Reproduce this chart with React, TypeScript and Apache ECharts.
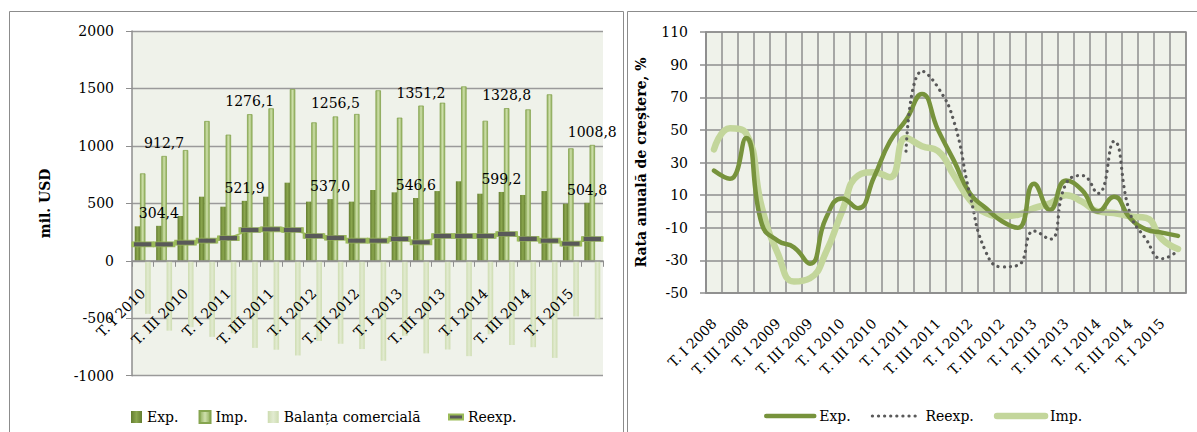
import React, { useEffect, useRef } from "react";
import * as echarts from "echarts";

const FONT = "DejaVu Serif";

// ---- Left chart data (mil. USD) ----
const barCats = [
  "T. I 2010", "T. II 2010", "T. III 2010", "T. IV 2010",
  "T. I 2011", "T. II 2011", "T. III 2011", "T. IV 2011",
  "T. I 2012", "T. II 2012", "T. III 2012", "T. IV 2012",
  "T. I 2013", "T. II 2013", "T. III 2013", "T. IV 2013",
  "T. I 2014", "T. II 2014", "T. III 2014", "T. IV 2014",
  "T. I 2015", "T. II 2015",
];
const expVals = [300, 304.4, 390, 558, 471, 521.9, 558, 680, 515, 537.0, 515, 616, 596, 546.6, 607, 692, 584, 599.2, 573, 607, 497, 504.8];
const impVals = [761, 912.7, 964, 1217, 1098, 1276.1, 1327, 1495, 1205, 1256.5, 1278, 1484, 1246, 1351.2, 1376, 1518, 1219, 1328.8, 1318, 1449, 979, 1008.8];
const balVals = [-462, -608, -578, -662, -630, -758, -774, -824, -698, -722, -768, -870, -652, -806, -772, -830, -640, -733, -752, -845, -484, -504];
const reexpVals = [143, 143, 158, 175, 196, 268, 274, 268, 216, 201, 175, 175, 190, 161, 216, 216, 216, 233, 192, 175, 149, 190];
const labeledIdx = [1, 5, 9, 13, 17, 21];
const leftTicks = { min: -1000, max: 2000, step: 500 };
const leftLegend = ["Exp.", "Imp.", "Balanța comercială"];
const leftLineLegend = ["Reexp."];

// ---- Right chart data (annual growth rate, %) ----
const rateCats = [
  "T. I 2008", "T. II 2008", "T. III 2008", "T. IV 2008",
  "T. I 2009", "T. II 2009", "T. III 2009", "T. IV 2009",
  "T. I 2010", "T. II 2010", "T. III 2010", "T. IV 2010",
  "T. I 2011", "T. II 2011", "T. III 2011", "T. IV 2011",
  "T. I 2012", "T. II 2012", "T. III 2012", "T. IV 2012",
  "T. I 2013", "T. II 2013", "T. III 2013", "T. IV 2013",
  "T. I 2014", "T. II 2014", "T. III 2014", "T. IV 2014",
  "T. I 2015", "T. II 2015",
];
const expRate = [25, 20, 45, -8, -18, -22, -32, -4, 8, 2, 21, 43, 56, 72, 50, 31, 11, 2, -6, -10, 17, 1, 19, 13, 0, 9, -4, -11, -13, -15];
const impRate = [38, 51, 48, 2, -26, -43, -41, -25, 0, 22, 24, 21, 45, 40, 37, 22, 7, -1, -3, -2, 2, 5, 10, 6, 0, -1, -3, -4, -17, -23];
const reexpRate = [null, null, null, null, null, null, null, null, null, null, null, null, 37, 86, 76, 55, 10, -25, -34, -33, -12, -17, 17, 22, 11, 43, -1, -17, -29, -24];
const rightTicks = { min: -50, max: 110, step: 20 };
const rightLegend = ["r_Exp.", "r_Reexp.", "r_Imp."];

const GRID_COL = "#8e8e8e";
const GREEN_DARK = "#77933C";
const GREEN_MID = "#9BBB59";
const GREEN_PALE = "#C3D69B";

// left grid geometry
const L_TOP = 31;
const L_H = 344.7;

function fmt(v: number) {
  return v.toFixed(1).replace(".", ",");
}

export default function App() {
  const ref = useRef<HTMLDivElement | null>(null);

  useEffect(() => {
    if (!ref.current) return;
    const chart = echarts.init(ref.current, undefined, { renderer: "svg" });

    const expGrad = new echarts.graphic.LinearGradient(0, 0, 1, 0, [
      { offset: 0, color: "#647d30" },
      { offset: 0.5, color: "#8aa64e" },
      { offset: 1, color: "#647d30" },
    ]);
    const impGrad = new echarts.graphic.LinearGradient(0, 0, 1, 0, [
      { offset: 0, color: "#8fae5a" },
      { offset: 0.5, color: "#cfe0ac" },
      { offset: 1, color: "#8fae5a" },
    ]);
    const balGrad = new echarts.graphic.LinearGradient(0, 0, 1, 0, [
      { offset: 0, color: "#cddcb0" },
      { offset: 0.5, color: "#e2ebd1" },
      { offset: 1, color: "#cddcb0" },
    ]);

    const labelStyle = {
      show: true,
      position: "top",
      distance: 6,
      fontFamily: FONT,
      fontSize: 14,
      color: "#000",
      formatter: (p: any) => fmt(p.value),
    };
    const withLabels = (arr: number[]) =>
      arr.map((v, i) => (labeledIdx.includes(i) ? { value: v, label: labelStyle } : v));

    const axisText = { fontFamily: FONT, fontSize: 14, color: "#000" };
    const legendText = { fontFamily: FONT, fontSize: 14, color: "#000", fontWeight: "normal" };
    const legendItems = (names: string[]) => names.map((n) => ({ name: n, textStyle: { ...legendText } }));

    // distance from grid bottom to the zero line of the left value axis
    const zeroOffset = -(L_H * (0 - leftTicks.min)) / (leftTicks.max - leftTicks.min);

    const option: any = {
      animation: false,
      backgroundColor: "#ffffff",
      textStyle: { fontFamily: FONT },
      graphic: [
        { type: "rect", shape: { x: 9.5, y: 11.5, width: 614, height: 440 }, style: { fill: "none", stroke: "#8c8c8c", lineWidth: 1 }, silent: true },
        { type: "rect", shape: { x: 627.5, y: 11.5, width: 590, height: 440 }, style: { fill: "none", stroke: "#8c8c8c", lineWidth: 1 }, silent: true },
      ],
      grid: [
        { left: 132, top: L_TOP, width: 471, height: L_H, show: true, backgroundColor: "#eff2ea", borderWidth: 0, containLabel: false, outerBoundsMode: "none" },
        { left: 706, top: 32, width: 480, height: 261, show: true, backgroundColor: "#eff2ea", borderWidth: 1.5, borderColor: GRID_COL, containLabel: false, outerBoundsMode: "none" },
      ],
      legend: [
        {
          left: 126, top: 405, itemWidth: 11, itemHeight: 12, itemGap: 20, icon: "rect",
          textStyle: legendText,
          data: legendItems(leftLegend),
          selectedMode: false,
        },
        {
          left: 443, top: 405, itemWidth: 14, itemHeight: 5, icon: "rect",
          textStyle: legendText,
          data: legendItems(leftLineLegend),
          selectedMode: false,
        },
        {
          left: 759, top: 404, itemWidth: 48, itemHeight: 14, itemGap: 20,
          textStyle: legendText,
          lineStyle: { width: "inherit", type: "inherit" },
          itemStyle: { opacity: 0 },
          data: legendItems(rightLegend),
          formatter: (n: string) => n.replace("r_", ""),
          selectedMode: false,
        },
      ],
      xAxis: [
        {
          type: "category", gridIndex: 0, data: barCats, z: 5,
          position: "bottom", offset: zeroOffset,
          axisLine: { show: true, onZero: false, lineStyle: { color: GRID_COL, width: 1.5 } },
          axisTick: { show: true, interval: 0, length: 6, lineStyle: { color: GRID_COL, width: 1 } },
          axisLabel: { ...axisText, interval: 1, rotate: 45, margin: 30 },
          splitLine: { show: false },
        },
        {
          type: "category", gridIndex: 1, data: rateCats,
          axisLine: { show: true, onZero: false, lineStyle: { color: GRID_COL, width: 1.5 } },
          axisTick: { show: false },
          axisLabel: { ...axisText, interval: 1, rotate: 45, margin: 28 },
          splitLine: { show: true, interval: 0, lineStyle: { color: GRID_COL, width: 1.5 } },
        },
      ],
      yAxis: [
        {
          type: "value", gridIndex: 0, min: leftTicks.min, max: leftTicks.max, interval: leftTicks.step,
          axisLine: { show: true, lineStyle: { color: GRID_COL, width: 1.5 } },
          axisTick: { show: true, length: 6, lineStyle: { color: GRID_COL } },
          axisLabel: { ...axisText, margin: 18, formatter: (v: number) => String(v) },
          splitLine: { show: true, lineStyle: { color: "#9a9a9a", width: 1.3 } },
          name: "mil. USD", nameLocation: "middle", nameGap: 80,
          nameTextStyle: { fontFamily: FONT, fontSize: 14, fontWeight: "bold", color: "#000" },
        },
        {
          type: "value", gridIndex: 1, min: rightTicks.min, max: rightTicks.max, interval: rightTicks.step,
          axisLine: { show: true, lineStyle: { color: GRID_COL, width: 1.5 } },
          axisTick: { show: true, length: 6, lineStyle: { color: GRID_COL, width: 1.5 } },
          axisLabel: { ...axisText, margin: 18, formatter: (v: number) => String(v) },
          splitLine: { show: true, lineStyle: { color: GRID_COL, width: 1.5 } },
          name: "Rata anuală de creștere, %", nameLocation: "middle", nameGap: 58,
          nameTextStyle: { fontFamily: FONT, fontSize: 14, fontWeight: "bold", color: "#000" },
        },
      ],
      series: [
        {
          name: "Exp.", type: "bar", xAxisIndex: 0, yAxisIndex: 0, barWidth: 5.5, barGap: "-5%",
          itemStyle: { color: expGrad },
          data: withLabels(expVals),
        },
        {
          name: "Imp.", type: "bar", xAxisIndex: 0, yAxisIndex: 0, barWidth: 5.5, barGap: "-5%",
          itemStyle: { color: impGrad, borderColor: "#86a550", borderWidth: 0.8 },
          data: withLabels(impVals),
        },
        {
          name: "Balanța comercială", type: "bar", xAxisIndex: 0, yAxisIndex: 0, barWidth: 5.5, barGap: "-5%",
          itemStyle: { color: balGrad },
          data: balVals,
        },
        {
          name: "Reexp.", type: "line", xAxisIndex: 0, yAxisIndex: 0, z: 4,
          symbol: "rect", symbolSize: [20, 5], showSymbol: true,
          itemStyle: { color: "#595959", borderColor: GREEN_MID, borderWidth: 1.3 },
          lineStyle: { color: GREEN_MID, width: 1.5 },
          data: reexpVals,
        },
        {
          name: "zero", type: "line", xAxisIndex: 1, yAxisIndex: 1, data: [], z: 1,
          markLine: {
            silent: true, symbol: "none", label: { show: false },
            lineStyle: { color: GRID_COL, width: 1.5, type: "solid" },
            data: [{ yAxis: 0 }],
          },
        },
        {
          name: "r_Imp.", type: "line", xAxisIndex: 1, yAxisIndex: 1, z: 2,
          smooth: true, symbol: "none", showSymbol: false,
          lineStyle: { color: GREEN_PALE, width: 6.5, cap: "round" },
          itemStyle: { color: GREEN_PALE },
          data: impRate,
        },
        {
          name: "r_Exp.", type: "line", xAxisIndex: 1, yAxisIndex: 1, z: 3,
          smooth: true, symbol: "none", showSymbol: false,
          lineStyle: { color: GREEN_DARK, width: 4.5, cap: "round" },
          itemStyle: { color: GREEN_DARK },
          data: expRate,
        },
        {
          name: "r_Reexp.", type: "line", xAxisIndex: 1, yAxisIndex: 1, z: 4,
          smooth: true, symbol: "none", showSymbol: false, connectNulls: false,
          lineStyle: { color: "#595959", width: 3.2, type: [0.1, 6], cap: "round" },
          itemStyle: { color: "#595959" },
          data: reexpRate,
        },
      ],
    };

    chart.setOption(option);
    return () => chart.dispose();
  }, []);

  return (
    <div
      ref={ref}
      style={{ position: "absolute", left: 0, top: 0, width: 1197, height: 432 }}
    />
  );
}
